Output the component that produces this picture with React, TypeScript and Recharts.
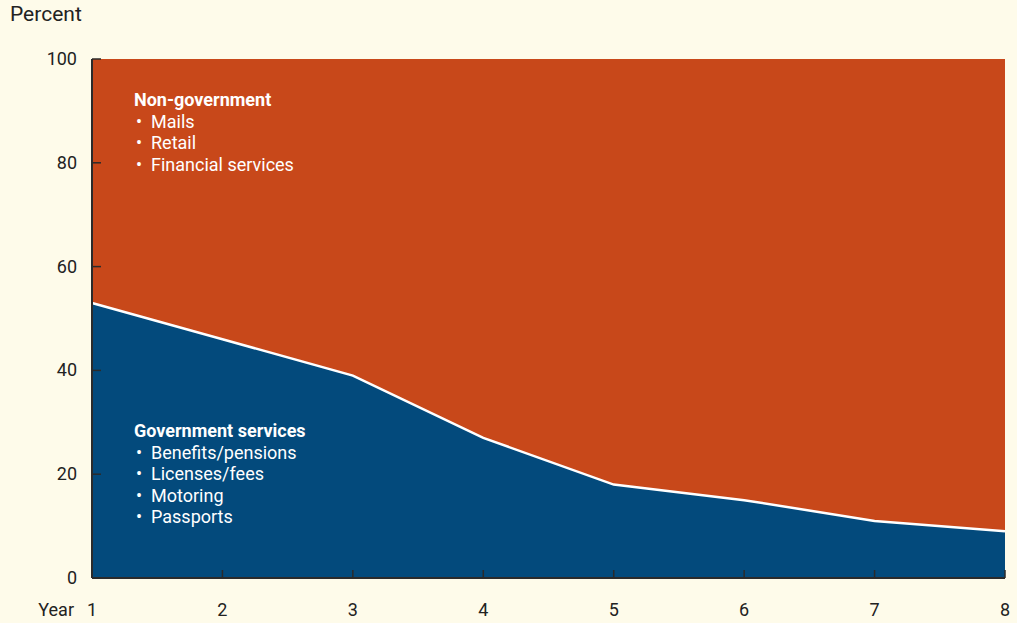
import { Area, ComposedChart, Line, XAxis, YAxis } from 'recharts';

const years = [1, 2, 3, 4, 5, 6, 7, 8];
const government = [53, 46, 39, 27, 18, 15, 11, 9];
const nonGovernment = [47, 54, 61, 73, 82, 85, 89, 91];
const yTicks = [0, 20, 40, 60, 80, 100];

const nonGovItems = ['Mails', 'Retail', 'Financial services'];
const govItems = ['Benefits/pensions', 'Licenses/fees', 'Motoring', 'Passports'];

const data = years.map((year, i) => ({
  year,
  gov: government[i],
  nonGov: nonGovernment[i],
}));

const FONT = '"Liberation Sans Narrow", "Roboto", sans-serif';
const AXIS = '#2b2b2b';
const BG = '#fefbea';
const ORANGE = '#c8481a';
const BLUE = '#034a7c';

function YTick({ x, y, payload }: any) {
  return (
    <g>
      <line x1={x} y1={y} x2={x + 9} y2={y} stroke={AXIS} strokeWidth={1.5} />
      <text x={x - 15} y={y} dy={6} textAnchor="end" fill="#222" fontSize={18} fontFamily={FONT}>
        {payload.value}
      </text>
    </g>
  );
}

function XTick({ x, y, payload }: any) {
  return (
    <g>
      <line x1={x} y1={y} x2={x} y2={y - 8} stroke={AXIS} strokeWidth={1.5} />
      {payload.value === 1 && (
        <text x={x - 18} y={y + 38} textAnchor="end" fill="#222" fontSize={18} fontFamily={FONT}>
          Year
        </text>
      )}
      <text x={x} y={y + 38} textAnchor="middle" fill="#222" fontSize={18} fontFamily={FONT}>
        {payload.value}
      </text>
    </g>
  );
}

function Note({ top, title, items }: { top: number; title: string; items: string[] }) {
  return (
    <div
      style={{
        position: 'absolute',
        left: 134,
        top,
        color: '#fff',
        fontFamily: FONT,
        fontSize: 18,
        lineHeight: '21.5px',
      }}
    >
      <div style={{ fontWeight: 700 }}>{title}</div>
      {items.map((t) => (
        <div key={t} style={{ paddingLeft: 2 }}>
          •&nbsp;&nbsp;{t}
        </div>
      ))}
    </div>
  );
}

export default function App() {
  return (
    <div
      style={{
        position: 'absolute',
        left: 0,
        top: 0,
        width: 1017,
        height: 623,
        background: BG,
      }}
    >
      <div
        style={{
          position: 'absolute',
          left: 10,
          top: 2,
          fontFamily: FONT,
          fontSize: 21,
          color: '#222',
        }}
      >
        Percent
      </div>
      <ComposedChart
        width={1017}
        height={623}
        data={data}
        margin={{ top: 59, right: 12, left: 0, bottom: 0 }}
      >
        <XAxis
          dataKey="year"
          type="number"
          domain={[1, 8]}
          ticks={years}
          height={45}
          tickSize={0}
          tickMargin={0}
          tick={<XTick />}
          axisLine={{ stroke: AXIS, strokeWidth: 2 }}
          tickLine={false}
        />
        <YAxis
          domain={[0, 100]}
          ticks={yTicks}
          width={92}
          tickSize={0}
          tickMargin={0}
          tick={<YTick />}
          axisLine={{ stroke: AXIS, strokeWidth: 2 }}
          tickLine={false}
        />
        <Area
          dataKey="gov"
          stackId="a"
          type="linear"
          fill={BLUE}
          fillOpacity={1}
          stroke="none"
          isAnimationActive={false}
        />
        <Area
          dataKey="nonGov"
          stackId="a"
          type="linear"
          fill={ORANGE}
          fillOpacity={1}
          stroke="none"
          isAnimationActive={false}
        />
        <Line
          dataKey="gov"
          type="linear"
          stroke="#fff"
          strokeWidth={2.5}
          dot={false}
          isAnimationActive={false}
        />
      </ComposedChart>
      <Note top={89} title="Non-government" items={nonGovItems} />
      <Note top={420} title="Government services" items={govItems} />
    </div>
  );
}
